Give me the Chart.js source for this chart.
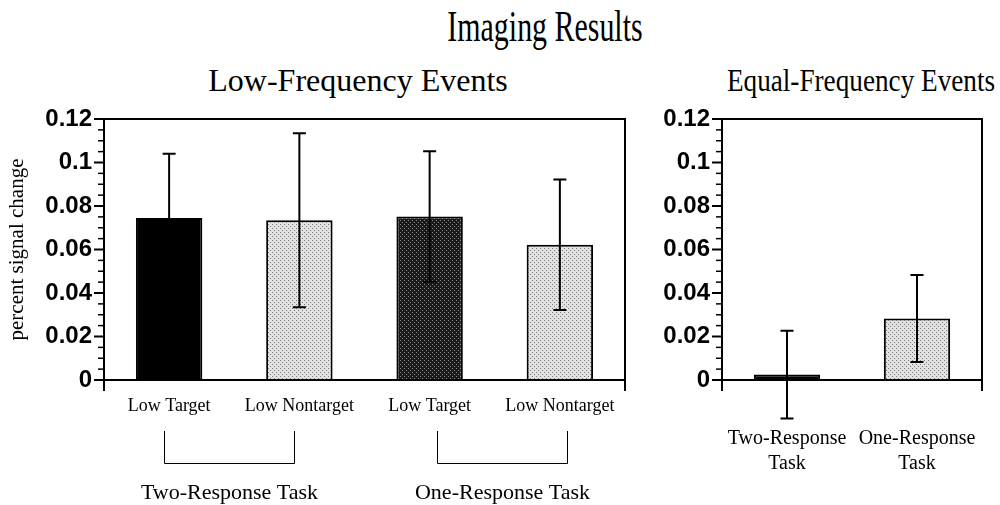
<!DOCTYPE html>
<html>
<head>
<meta charset="utf-8">
<script src="https://cdn.jsdelivr.net/npm/chart.js@4"></script>
<style>
  body { margin: 0; width: 1000px; height: 505px; background: #fff; position: relative; overflow: hidden; font-family: "Liberation Serif", serif; color: #000; }
  .txt { position: absolute; text-align: center; white-space: nowrap; line-height: 1; }
  #title { left: 345px; top: 5px; width: 400px; font-size: 44px; transform: scaleX(0.68); }
  .sub { top: 64px; width: 400px; font-size: 32px; }
  .box { position: absolute; top: 0; height: 505px; }
</style>
</head>
<body>
<div id="title" class="txt">Imaging Results</div>
<div class="txt sub" style="left:158px">Low-Frequency Events</div>
<div class="txt sub" style="left:661px;transform:scaleX(0.85)">Equal-Frequency Events</div>
<div class="box" style="left:0;width:640px"><canvas id="lowChart"></canvas></div>
<div class="box" style="left:640px;width:360px"><canvas id="equalChart"></canvas></div>
<script>
// values
const yTickValues = [0, 0.02, 0.04, 0.06, 0.08, 0.1, 0.12];
const lowLabels = ["Low Target", "Low Nontarget", "Low Target", "Low Nontarget"];
const lowMeans = [0.0745, 0.0735, 0.0752, 0.0622];
const lowErrors = [0.0295, 0.04, 0.03, 0.03];
const lowGroups = ["Two-Response Task", "One-Response Task"];
const equalLabels = [["Two-Response", "Task"], ["One-Response", "Task"]];
const equalMeans = [0.0025, 0.0283];
const equalErrors = [0.0202, 0.02];

// dotted fills like the printed hatching
function dots(bg, fg) {
  const c = document.createElement("canvas");
  c.width = 4; c.height = 4;
  const g = c.getContext("2d");
  g.fillStyle = bg;
  g.fillRect(0, 0, 4, 4);
  g.fillStyle = fg;
  g.fillRect(0, 0, 1, 1);
  g.fillRect(2, 2, 1, 1);
  return g.createPattern(c, "repeat");
}
const light = dots("#e2e2e2", "#7a7a7a");
const dark = dots("#1a1a1a", "#8a8a8a");

// error bars from the y scale
const errorBars = {
  id: "errorBars",
  afterDatasetsDraw(chart, args, opts) {
    const ctx = chart.ctx;
    const y = chart.scales.y;
    const vals = chart.data.datasets[0].data;
    ctx.save();
    ctx.strokeStyle = "#000";
    ctx.lineWidth = 2;
    chart.getDatasetMeta(0).data.forEach((bar, i) => {
      const top = y.getPixelForValue(vals[i] + opts.errors[i]);
      const bot = y.getPixelForValue(vals[i] - opts.errors[i]);
      ctx.beginPath();
      ctx.moveTo(bar.x, top); ctx.lineTo(bar.x, bot);
      ctx.moveTo(bar.x - 6.5, top); ctx.lineTo(bar.x + 6.5, top);
      ctx.moveTo(bar.x - 6.5, bot); ctx.lineTo(bar.x + 6.5, bot);
      ctx.stroke();
    });
    ctx.restore();
  }
};

// box frame plus major/minor y ticks
const frame = {
  id: "frame",
  afterDatasetsDraw(chart) {
    const {ctx, chartArea: a} = chart;
    const y = chart.scales.y;
    ctx.save();
    ctx.strokeStyle = "#000";
    ctx.lineWidth = 2;
    ctx.beginPath();
    ctx.moveTo(a.left, a.bottom + 11); ctx.lineTo(a.left, a.top); ctx.lineTo(a.right, a.top); ctx.lineTo(a.right, a.bottom + 11);
    ctx.moveTo(a.left, a.bottom); ctx.lineTo(a.right, a.bottom);
    ctx.stroke();
    for (let i = 0; i <= 24; i++) {
      const py = y.getPixelForValue(i * 0.005);
      ctx.lineWidth = i % 4 ? 1.5 : 2;
      ctx.beginPath();
      ctx.moveTo(a.left - (i % 4 ? 6 : 10), py);
      ctx.lineTo(a.left, py);
      ctx.stroke();
    }
    ctx.restore();
  }
};

// brackets and task names under the left panel
const groups = {
  id: "groups",
  afterDraw(chart, args, opts) {
    const {ctx, chartArea: a} = chart;
    const x = chart.scales.x;
    ctx.save();
    ctx.strokeStyle = "#000";
    ctx.lineWidth = 1;
    ctx.fillStyle = "#000";
    ctx.font = "22px 'Liberation Serif'";
    ctx.textAlign = "center";
    ctx.textBaseline = "alphabetic";
    opts.labels.forEach((lab, g) => {
      const x0 = Math.round(x.getPixelForValue(g * 2)) + opts.shift[g] + 0.5;
      const x1 = Math.round(x.getPixelForValue(g * 2 + 1)) + opts.shift[g] + 0.5;
      ctx.beginPath();
      ctx.moveTo(x0, a.bottom + 51); ctx.lineTo(x0, a.bottom + 83.5);
      ctx.lineTo(x1, a.bottom + 83.5); ctx.lineTo(x1, a.bottom + 51);
      ctx.stroke();
      ctx.fillText(lab, (x0 + x1) / 2, a.bottom + 119);
    });
    ctx.restore();
  }
};

function yScale(width, title) {
  return {
    min: 0,
    max: 0.12,
    afterBuildTicks: s => { s.ticks = yTickValues.map(v => ({ value: v })); },
    afterFit: s => { s.width = width; },
    grid: { display: false, drawTicks: false },
    border: { display: false },
    ticks: {
      padding: 12,
      color: "#000",
      font: { family: "Liberation Sans", weight: "bold", size: 24 },
      callback: v => String(+v.toFixed(2))
    },
    title: {
      display: !!title,
      text: title,
      color: "#000",
      font: { family: "Liberation Serif", size: 21 },
      padding: { top: 5, bottom: 0 }
    }
  };
}

function xScale(size, pad, lh) {
  return {
    afterFit: s => { s.height = 125; s.paddingLeft = 0; s.paddingRight = 0; },
    grid: { display: false, drawTicks: false },
    border: { display: false },
    ticks: {
      padding: pad,
      color: "#000",
      maxRotation: 0,
      autoSkip: false,
      font: { family: "Liberation Serif", size: size, lineHeight: lh }
    }
  };
}

new Chart(document.getElementById("lowChart"), {
  type: "bar",
  data: {
    labels: lowLabels,
    datasets: [{
      data: lowMeans,
      backgroundColor: ["#000", light, dark, light],
      borderColor: "#000",
      borderWidth: 2,
      barPercentage: 0.51,
      categoryPercentage: 1
    }]
  },
  options: {
    responsive: true,
    maintainAspectRatio: false,
    animation: false,
    layout: { padding: { top: 119, right: 15, left: 0, bottom: 0 } },
    scales: { x: xScale(18, 15, 1.2), y: yScale(104, "percent signal change") },
    plugins: {
      legend: { display: false },
      tooltip: { enabled: false },
      errorBars: { errors: lowErrors },
      groups: { labels: lowGroups, shift: [-5, 7] }
    }
  },
  plugins: [frame, errorBars, groups]
});

new Chart(document.getElementById("equalChart"), {
  type: "bar",
  data: {
    labels: equalLabels,
    datasets: [{
      data: equalMeans,
      backgroundColor: ["#000", light],
      borderColor: "#000",
      borderWidth: 2,
      barPercentage: 0.51,
      categoryPercentage: 1
    }]
  },
  options: {
    responsive: true,
    maintainAspectRatio: false,
    animation: false,
    layout: { padding: { top: 119, right: 18, left: 0, bottom: 0 } },
    scales: { x: xScale(20, 46, 1.25), y: yScale(82, "") },
    plugins: {
      legend: { display: false },
      tooltip: { enabled: false },
      errorBars: { errors: equalErrors }
    }
  },
  plugins: [frame, errorBars]
});
</script>
</body>
</html>
